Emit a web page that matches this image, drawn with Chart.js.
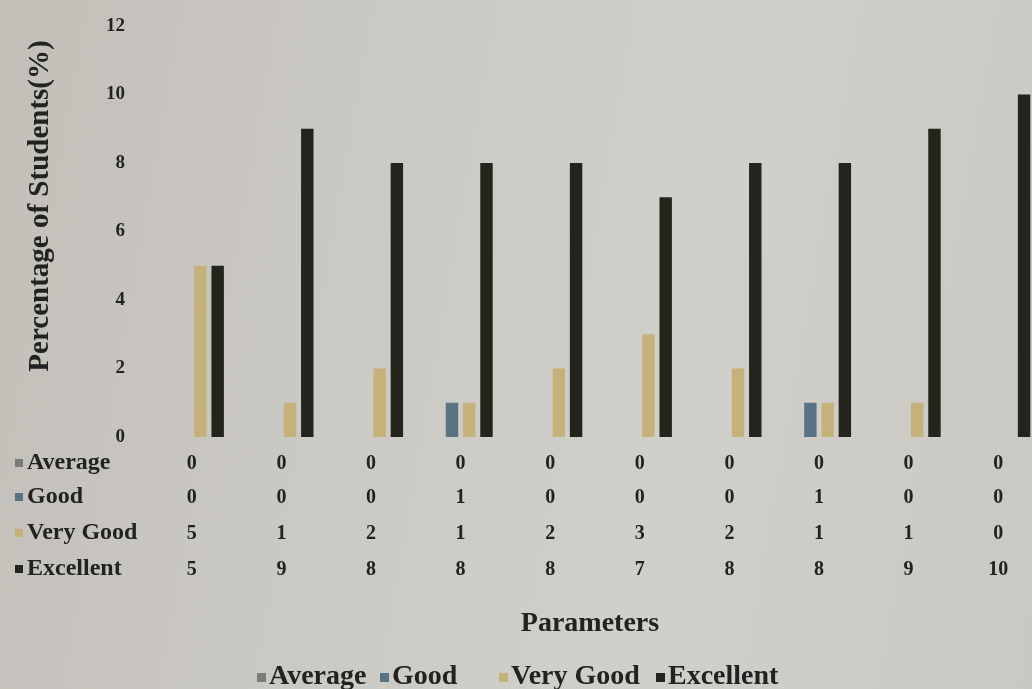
<!DOCTYPE html>
<html>
<head>
<meta charset="utf-8">
<script src="https://cdn.jsdelivr.net/npm/chart.js@4.4.1/dist/chart.umd.min.js"></script>
<style>
  html, body { margin: 0; padding: 0; overflow: hidden; }
  body {
    width: 1032px; height: 689px;
    background: linear-gradient(100deg, #c1bfb8 0%, #cbc9c3 35%, #d1cfc9 65%, #cac8c2 100%);
  }
  .wrap { width: 1045px; height: 689px; }
</style>
</head>
<body>
<div class="wrap"><canvas id="chart" width="1045" height="689"></canvas></div>
<script>
// Data
const categories = ['1', '2', '3', '4', '5', '6', '7', '8', '9', '10'];
const seriesNames = ['Average', 'Good', 'Very Good', 'Excellent'];
const average   = [0, 0, 0, 0, 0, 0, 0, 0, 0, 0];
const good      = [0, 0, 0, 1, 0, 0, 0, 1, 0, 0];
const veryGood  = [5, 1, 2, 1, 2, 3, 2, 1, 1, 0];
const excellent = [5, 9, 8, 8, 8, 7, 8, 8, 9, 10];
const yTicks = [0, 2, 4, 6, 8, 10, 12];

const colors = ['#7b7b78', '#5a7384', '#c4b27a', '#23241c'];
const serif = '"Liberation Serif", "DejaVu Serif", serif';

Chart.defaults.font.family = serif;
Chart.defaults.font.weight = 'bold';
Chart.defaults.color = '#222';

// Data table, axis titles and legend drawn under the plot, positioned by the scales
const tablePlugin = {
    id: 'dataTable',
    afterDraw(chart) {
        const ctx = chart.ctx;
        const x = chart.scales.x;
        const rowY = [463, 497, 533, 569];
        ctx.save();
        ctx.textBaseline = 'middle';
        chart.data.datasets.forEach((ds, r) => {
            // row label with colour square
            ctx.fillStyle = ds.backgroundColor;
            ctx.fillRect(15, rowY[r] - 4, 8, 8);
            ctx.fillStyle = '#222';
            ctx.font = 'bold 24px ' + serif;
            ctx.textAlign = 'left';
            ctx.fillText(ds.label, 27, rowY[r]);
            ctx.font = 'bold 20px ' + serif;
            ctx.textAlign = 'center';
            ds.data.forEach((v, i) => {
                ctx.fillText(String(v), x.getPixelForValue(i), rowY[r] + 1);
            });
        });

        // y axis title
        ctx.save();
        ctx.translate(41, 206);
        ctx.rotate(-Math.PI / 2);
        ctx.font = 'bold 29px ' + serif;
        ctx.textAlign = 'center';
        ctx.fillText('Percentage of Students(%)', 0, 0);
        ctx.restore();

        // x axis title
        ctx.font = 'bold 28px ' + serif;
        ctx.textAlign = 'center';
        ctx.fillText('Parameters', 590, 624);

        // legend
        ctx.font = 'bold 28px ' + serif;
        ctx.textAlign = 'left';
        const legendX = [257, 380, 499, 656];
        chart.data.datasets.forEach((ds, i) => {
            ctx.fillStyle = ds.backgroundColor;
            ctx.fillRect(legendX[i], 673, 9, 9);
            ctx.fillStyle = '#222';
            ctx.fillText(ds.label, legendX[i] + 12, 677);
        });
        ctx.restore();
    }
};

const ctx = document.getElementById('chart').getContext('2d');
new Chart(ctx, {
    type: 'bar',
    data: {
        labels: categories,
        datasets: [
            { label: seriesNames[0], data: average, backgroundColor: colors[0] },
            { label: seriesNames[1], data: good, backgroundColor: colors[1] },
            { label: seriesNames[2], data: veryGood, backgroundColor: colors[2] },
            { label: seriesNames[3], data: excellent, backgroundColor: colors[3] }
        ]
    },
    options: {
        responsive: false,
        animation: false,
        layout: { padding: { top: 26, right: 2, bottom: 252, left: 0 } },
        datasets: { bar: { categoryPercentage: 0.77, barPercentage: 0.72 } },
        plugins: { legend: { display: false }, tooltip: { enabled: false } },
        scales: {
            x: { display: false },
            y: {
                min: 0, max: 12,
                afterBuildTicks: (s) => { s.ticks = yTicks.map(v => ({ value: v })); },
                afterFit: (s) => { s.width = 147; },
                grid: { display: false },
                border: { display: false },
                ticks: { padding: 14, font: { size: 19, weight: 'bold' }, color: '#222' }
            }
        }
    },
    plugins: [tablePlugin]
});
</script>
</body>
</html>
